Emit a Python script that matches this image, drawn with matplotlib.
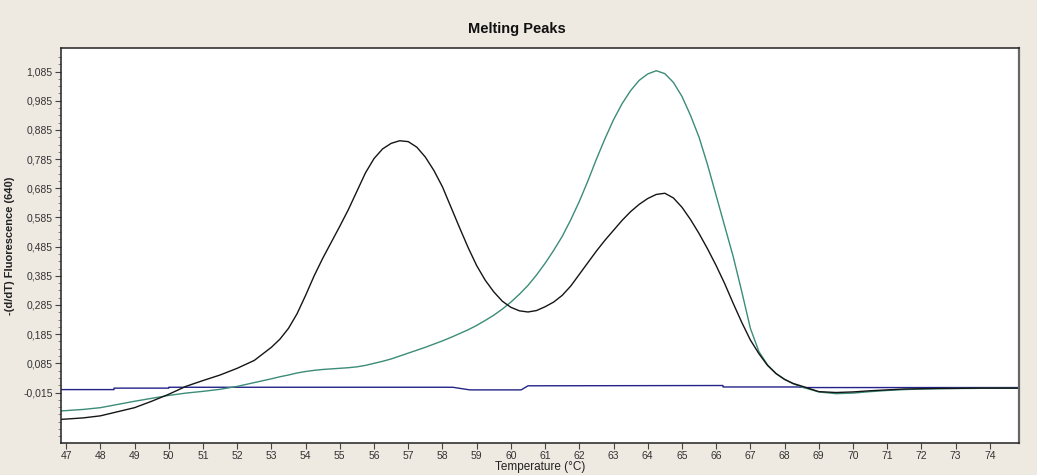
import matplotlib
matplotlib.use("Agg")
import matplotlib.pyplot as plt
from matplotlib.ticker import FixedLocator, FuncFormatter

# temperature grid (°C), finer where the peaks are
temps = [46.85, 47.0, 47.5, 48.0, 48.5, 49.0, 49.5, 50.0, 50.5, 51.0, 51.5,
         52.0, 52.5, 53.0, 53.25, 53.5, 53.75, 54.0, 54.25, 54.5, 54.75, 55.0,
         55.25, 55.5, 55.75, 56.0, 56.25, 56.5, 56.75, 57.0, 57.25, 57.5, 57.75,
         58.0, 58.25, 58.5, 58.75, 59.0, 59.25, 59.5, 59.75, 60.0, 60.25, 60.5,
         60.75, 61.0, 61.25, 61.5, 61.75, 62.0, 62.25, 62.5, 62.75, 63.0, 63.25,
         63.5, 63.75, 64.0, 64.25, 64.5, 64.75, 65.0, 65.25, 65.5, 65.75, 66.0,
         66.25, 66.5, 66.75, 67.0, 67.25, 67.5, 67.75, 68.0, 68.25, 68.5, 69.0,
         69.5, 70.0, 70.5, 71.0, 71.5, 72.0, 72.5, 73.0, 73.5, 74.0, 74.5, 74.85]

sample_black = [-0.107, -0.106, -0.102, -0.095, -0.081, -0.067, -0.045, -0.021,
                0.006, 0.026, 0.045, 0.068, 0.095, 0.140, 0.168, 0.205, 0.255,
                0.318, 0.385, 0.445, 0.500, 0.555, 0.612, 0.675, 0.738, 0.787,
                0.820, 0.839, 0.848, 0.845, 0.826, 0.792, 0.746, 0.690, 0.620,
                0.550, 0.482, 0.420, 0.370, 0.330, 0.298, 0.277, 0.265, 0.261,
                0.266, 0.279, 0.295, 0.318, 0.350, 0.390, 0.430, 0.470, 0.507,
                0.541, 0.575, 0.605, 0.630, 0.650, 0.664, 0.668, 0.652, 0.620,
                0.578, 0.530, 0.477, 0.420, 0.358, 0.290, 0.225, 0.165, 0.118,
                0.078, 0.050, 0.030, 0.016, 0.007, -0.012, -0.015, -0.013,
                -0.009, -0.006, -0.003, -0.002, -0.001, -0.001, 0.000, 0.000,
                0.000, 0.000]

sample_green = [-0.078, -0.077, -0.073, -0.067, -0.056, -0.045, -0.035, -0.025,
                -0.017, -0.011, -0.004, 0.006, 0.019, 0.032, 0.039, 0.045, 0.052,
                0.057, 0.061, 0.064, 0.066, 0.068, 0.070, 0.073, 0.078, 0.085,
                0.092, 0.100, 0.110, 0.120, 0.130, 0.140, 0.151, 0.162, 0.174,
                0.187, 0.200, 0.215, 0.232, 0.250, 0.271, 0.295, 0.322, 0.352,
                0.388, 0.428, 0.472, 0.520, 0.577, 0.640, 0.710, 0.785, 0.855,
                0.920, 0.975, 1.020, 1.055, 1.077, 1.088, 1.078, 1.048, 1.000,
                0.935, 0.860, 0.765, 0.660, 0.555, 0.450, 0.330, 0.205, 0.125,
                0.080, 0.050, 0.030, 0.015, 0.004, -0.013, -0.019, -0.017,
                -0.012, -0.008, -0.005, -0.003, -0.002, -0.001, -0.001, 0.000,
                0.000, 0.000]

# blue trace is almost flat, with its own breakpoints
temps_blue = [46.85, 48.4, 48.4, 50.0, 50.0, 58.3, 58.8, 60.3, 60.5, 66.2,
              66.2, 68.4, 68.6, 74.85]
sample_blue = [-0.005, -0.005, 0.000, 0.000, 0.003, 0.003, -0.006, -0.006,
               0.008, 0.009, 0.004, 0.004, 0.002, 0.002]

y_ticks = [-0.015, 0.085, 0.185, 0.285, 0.385, 0.485, 0.585, 0.685, 0.785,
           0.885, 0.985, 1.085]
x_ticks = list(range(47, 75))

font = "Liberation Sans"
bg = "#eee9e1"

fig = plt.figure(figsize=(10.37, 4.75), dpi=100, facecolor=bg)
ax = fig.add_axes([0.0588, 0.0674, 0.9238, 0.8316])
ax.set_facecolor("white")

ax.plot(temps_blue, sample_blue, color="#23238a", lw=1.0)
ax.plot(temps, sample_green, color="#3b8c78", lw=1.0)
ax.plot(temps, sample_black, color="#151515", lw=1.0)

ax.set_xlim(46.85, 74.85)
ax.set_ylim(-0.188, 1.166)

ax.xaxis.set_major_locator(FixedLocator(x_ticks))
ax.yaxis.set_major_locator(FixedLocator(y_ticks))
ax.yaxis.set_minor_locator(FixedLocator([v / 1000 for v in range(-165, 1160, 25)]))
ax.yaxis.set_major_formatter(FuncFormatter(lambda v, p: f"{v:.3f}".replace(".", ",")))

ax.tick_params(axis="both", direction="out", length=4, width=0.8, color="#444444",
               labelsize=7.5, labelcolor="#333333", pad=2)
ax.tick_params(axis="y", which="minor", length=2, width=0.6, color="#777777")
for lab in ax.get_xticklabels() + ax.get_yticklabels():
    lab.set_fontfamily(font)

for side in ["top", "left", "right", "bottom"]:
    ax.spines[side].set_color("#222222")
    ax.spines[side].set_linewidth(1.1)
ax.spines["right"].set_color("#666666")
ax.spines["right"].set_linewidth(1.6)

ax.set_xlabel("Temperature (\u00b0C)", fontsize=8.5, family=font, color="#222222", labelpad=0)
ax.set_ylabel("-(d/dT) Fluorescence (640)", fontsize=8, family=font,
              fontweight="bold", color="#222222", labelpad=6)

fig.text(0.4985, 0.940, "Melting Peaks", ha="center", va="center",
         fontsize=10.5, fontweight="bold", family=font, color="#111111")

fig.savefig("out.png", dpi=100, facecolor=bg)
